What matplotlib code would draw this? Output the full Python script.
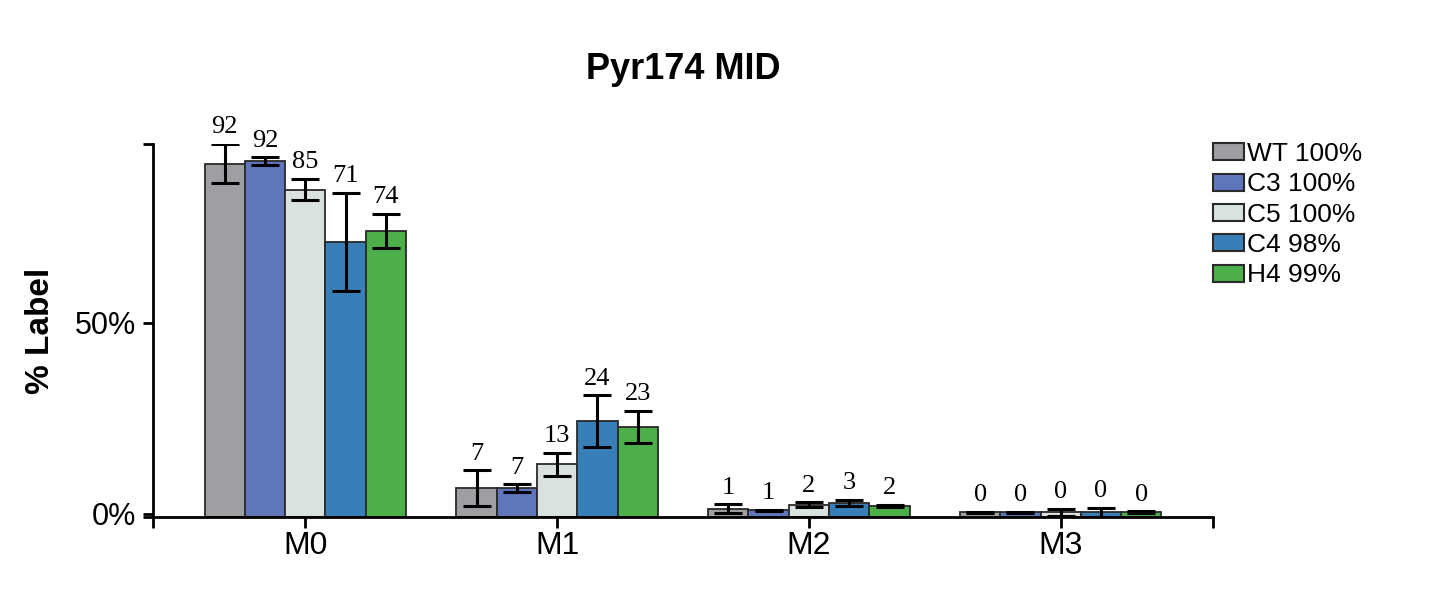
import matplotlib.pyplot as plt
import numpy as np

plt.rcParams['font.family'] = ['Liberation Sans', 'DejaVu Sans']

isotopologues = ['M0', 'M1', 'M2', 'M3']
groups = ['WT 100%', 'C3 100%', 'C5 100%', 'C4 98%', 'H4 99%']
colors = ['#9f9ea3', '#5f76ba', '#dae2df', '#387fb8', '#4daf4a']

# mean % label per group, one entry per isotopologue
wt = [91.6, 6.8, 1.4, 0.45]
c3 = [92.2, 6.7, 1.0, 0.45]
c5 = [84.8, 13.0, 2.4, 0.45]
c4 = [71.2, 24.3, 2.9, 0.45]
h4 = [74.0, 22.8, 2.1, 0.45]
means = [wt, c3, c5, c4, h4]

wt_err = [5.2, 4.6, 1.2, 0.1]
c3_err = [1.0, 1.0, 0.1, 0.1]
c5_err = [2.8, 3.0, 0.7, 0.9]
c4_err = [12.8, 6.7, 0.8, 1.2]
h4_err = [4.5, 4.2, 0.3, 0.2]
errs = [wt_err, c3_err, c5_err, c4_err, h4_err]


def main():
    fig = plt.figure(figsize=(14.5, 5.91), dpi=100)
    ax = fig.add_axes([0.1055, 0.1252, 0.7311, 0.6311])

    ybot, ytop = -0.8, 96.7
    x = np.arange(len(isotopologues))
    width = 0.16
    for i, (m, e, c, g) in enumerate(zip(means, errs, colors, groups)):
        pos = x + (i - 2) * width
        m = np.array(m)
        # bars start at the floor of the axis
        ax.bar(pos, m - ybot, width, bottom=ybot, color=c,
               edgecolor='#2a2a2a', linewidth=1.3, label=g, zorder=2)
        ax.errorbar(pos, m, yerr=e, fmt='none', ecolor='black',
                    elinewidth=2.2, capsize=10, capthick=2.2, zorder=3)
        for xi, mi, ei in zip(pos, m, e):
            ax.text(xi, mi + ei + 1.4, f'{round(mi):d}', ha='center',
                    va='bottom', fontsize=19, family='Liberation Serif')

    ax.set_xlim(-0.605, 3.605)
    ax.set_ylim(ybot, ytop)
    ax.set_yticks([ybot, 0, 50, ytop])
    ax.set_yticklabels(['', '0%', '50%', ''], fontsize=22)
    ax.set_xticks([-0.605] + list(x) + [3.605])
    ax.set_xticklabels([''] + isotopologues + [''], fontsize=23)
    ax.tick_params(axis='y', direction='out', length=7, width=2, pad=5)
    ax.tick_params(axis='x', direction='out', length=8, width=2, pad=2)
    for s in ['top', 'right']:
        ax.spines[s].set_visible(False)
    for s in ['left', 'bottom']:
        ax.spines[s].set_linewidth(2)

    ax.set_ylabel('% Label', fontsize=24, fontweight='bold', labelpad=14)
    ax.set_title('Pyr174 MID', fontsize=26, fontweight='bold', pad=47)

    leg = ax.legend(loc='upper left', bbox_to_anchor=(1.0, 1.005),
                    frameon=False, fontsize=19, handlelength=1.17,
                    handleheight=0.6, handletextpad=0.12, labelspacing=0.24,
                    borderaxespad=0.0, borderpad=0.0)
    for h in leg.legend_handles:
        h.set_edgecolor('#2a2a2a')
        h.set_linewidth(1.5)

    fig.savefig('out.png', dpi=100)


if __name__ == '__main__':
    main()
